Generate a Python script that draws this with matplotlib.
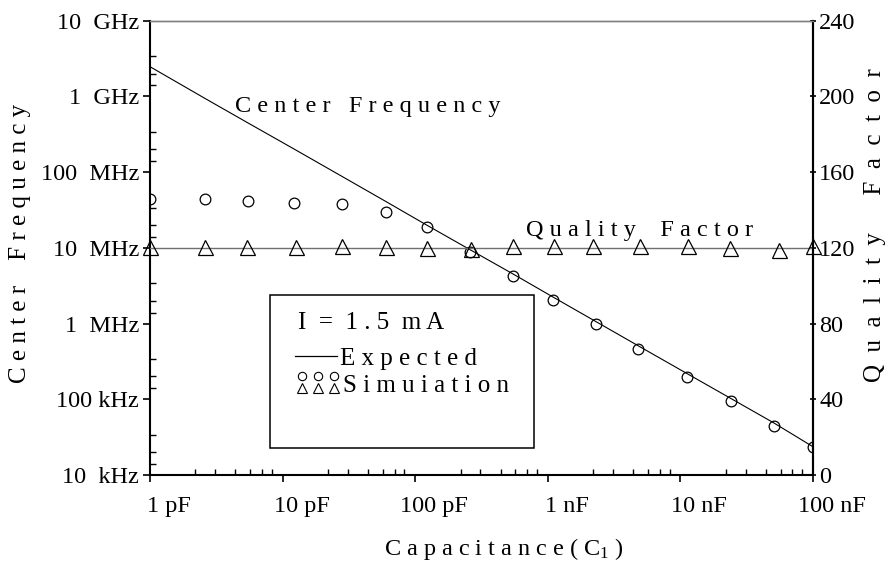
import numpy as np
import matplotlib
matplotlib.use("Agg")
import matplotlib.pyplot as plt
import matplotlib.ticker as mticker
import matplotlib.transforms as mtrans
from matplotlib.patches import Rectangle

plt.rcParams['font.family'] = ['Liberation Serif', 'DejaVu Serif']
plt.rcParams['mathtext.fontset'] = 'custom'
plt.rcParams['mathtext.rm'] = 'Liberation Serif'
plt.rcParams['mathtext.it'] = 'Liberation Serif'

# capacitance sweep (pF)
cap_pf = [1, 2.6, 5.5, 12.2, 28, 60, 122, 258, 543, 1090, 2290, 4750, 11300, 23900, 50400, 100000]
cap_q_pf = [1, 2.6, 5.4, 12.6, 28, 60, 122, 262, 543, 1107, 2180, 4930, 11500, 23500, 55000, 100000]

# center frequency (Hz)
f_expected = [2.47e9, 9.4e8, 4.45e8, 2.02e8, 8.8e7, 4.1e7, 2.0e7, 9.5e6, 4.55e6,
              2.25e6, 1.07e6, 5.15e5, 2.17e5, 1.03e5, 4.9e4, 2.36e4]
f_sim = [44.1e6, 44.1e6, 41.5e6, 39.4e6, 37.6e6, 29.7e6, 18.8e6, 8.7e6, 4.28e6,
         2.04e6, 9.75e5, 4.6e5, 1.98e5, 9.46e4, 4.47e4, 2.36e4]

# quality factor
q_expected_pf = [1, 100000]
q_expected = [120, 120]
q_sim = [120.7, 120.7, 120.7, 120.7, 121.2, 120.7, 120.0, 119.2, 121.2,
         121.2, 121.2, 121.2, 121.2, 120.0, 119.1, 121.2]

x_ticks = [1e-12, 1e-11, 1e-10, 1e-9, 1e-8, 1e-7]
x_labels = ['1 pF', '10 pF', '100 pF', '1 nF', '10 nF', '100 nF']
y_ticks = [1e4, 1e5, 1e6, 1e7, 1e8, 1e9, 1e10]
y_labels = ['10  kHz', '100 kHz', '1  MHz', '10  MHz', '100  MHz', '1  GHz', '10  GHz']
q_ticks = [0, 40, 80, 120, 160, 200, 240]

fs = 17.5
C = np.array(cap_pf) * 1e-12
Cq = np.array(cap_q_pf) * 1e-12

fig = plt.figure(figsize=(8.91, 5.63), dpi=100)
ax = fig.add_axes([150 / 891, 88 / 563, 663 / 891, 454.3 / 563])
ax.set_xscale('log')
ax.set_yscale('log')
ax.set_xlim(1e-12, 1e-7)
ax.set_ylim(1e4, 1e10)

ax.plot(C, f_expected, color='black', lw=0.8)
ax.plot(C, f_sim, 'o', ms=7.7, mfc='none', mec='black', mew=0.9)

ax.set_xticks(x_ticks)
ax.set_xticklabels(x_labels, fontsize=fs)
ax.set_yticks(y_ticks)
ax.set_yticklabels(y_labels, fontsize=fs)
ax.xaxis.set_minor_locator(mticker.LogLocator(base=10, subs=[2.2, 3.1, 4.4, 5.7, 7.0, 8.3]))
ax.yaxis.set_minor_locator(mticker.LogLocator(base=10, subs=[1.4, 2.0, 3.4]))
ax.xaxis.set_minor_formatter(mticker.NullFormatter())
ax.yaxis.set_minor_formatter(mticker.NullFormatter())
ax.tick_params(which='major', direction='out', length=5, width=1.2)
ax.tick_params(axis='x', which='major', pad=10)
ax.tick_params(axis='y', which='major', pad=3)
ax.tick_params(which='minor', direction='in', length=4.5, width=1.0)
ax.tick_params(top=False, right=False, which='both')

off = mtrans.ScaledTranslation(19 / 100, 0, fig.dpi_scale_trans)
for lbl in ax.get_xticklabels():
    lbl.set_transform(lbl.get_transform() + off)

for side in ['left', 'bottom', 'right']:
    ax.spines[side].set_linewidth(1.5)
ax.spines['top'].set_color('#808080')
ax.spines['top'].set_linewidth(1.0)

ax2 = ax.twinx()
ax2.set_ylim(0, 240)
ax2.plot(np.array(q_expected_pf) * 1e-12, q_expected, color='#707070', lw=1.0)
ax2.plot(Cq, q_sim, '^', ms=10.8, mfc='none', mec='black', mew=0.9, clip_on=False)
ax2.set_yticks(q_ticks)
ax2.set_yticklabels([str(t) for t in q_ticks], fontsize=fs)
ax2.tick_params(axis='y', direction='inout', length=5, width=1.2, pad=2)
ax2.spines['right'].set_linewidth(1.5)
ax2.spines['top'].set_color('#808080')
ax2.spines['top'].set_linewidth(1.0)
ax2.spines['left'].set_visible(False)
ax2.spines['bottom'].set_visible(False)

# annotations
ax.text(0.128, 0.80, 'C e n t e r   F r e q u e n c y', transform=ax.transAxes,
        fontsize=fs, ha='left', va='baseline')
ax.text(0.567, 0.526, 'Q u a l i t y    F a c t o r', transform=ax.transAxes,
        fontsize=fs, ha='left', va='baseline')

# legend box
lfs = 18
ax.add_patch(Rectangle((0.181, 0.059), 0.398, 0.337, transform=ax.transAxes,
                       facecolor='white', edgecolor='black', lw=1.1, zorder=5))
ax.text(0.223, 0.321, 'I  =  1 . 5  m A', transform=ax.transAxes, fontsize=lfs,
        ha='left', va='baseline', zorder=6)
ax.plot([0.219, 0.282], [0.263, 0.263], color='black', lw=0.9,
        transform=ax.transAxes, zorder=6)
ax.text(0.287, 0.242, 'E x p e c t e d', transform=ax.transAxes, fontsize=lfs,
        ha='left', va='baseline', zorder=6)
ax.plot([0.229, 0.254, 0.277], [0.218, 0.218, 0.218], 'o', ms=6, mfc='none',
        mec='black', mew=0.8, transform=ax.transAxes, zorder=6)
ax.plot([0.229, 0.254, 0.277], [0.191, 0.191, 0.191], '^', ms=7, mfc='none',
        mec='black', mew=0.8, transform=ax.transAxes, zorder=6)
ax.text(0.291, 0.183, 'S i m u i a t i o n', transform=ax.transAxes, fontsize=lfs,
        ha='left', va='baseline', zorder=6)

# axis titles
fig.text(20 / 891, 1 - 243 / 563, 'C e n t e r    F r e q u e n c y', rotation=90,
         fontsize=18, ha='center', va='center')
fig.text(875 / 891, 1 - 225 / 563, 'Q  u  a  l  i  t  y      F  a  c  t  o  r', rotation=90,
         fontsize=18, ha='center', va='center')
fig.text(504 / 891, 1 - 555 / 563, 'C a p a c i t a n c e ( C$_1$ )',
         fontsize=fs, ha='center', va='baseline')

fig.savefig('out.png', dpi=100)
